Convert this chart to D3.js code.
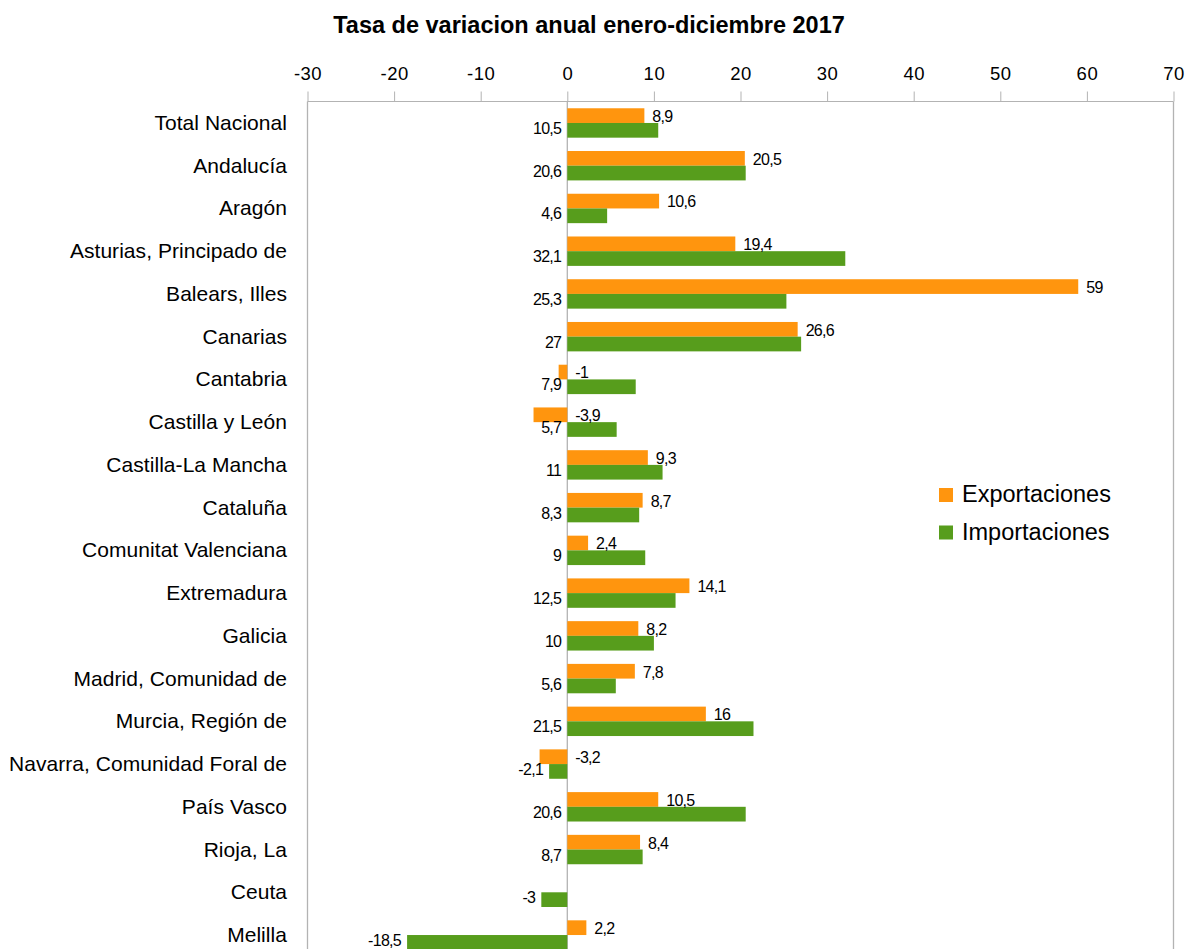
<!DOCTYPE html>
<html><head><meta charset="utf-8">
<script src="https://cdn.jsdelivr.net/npm/d3@7"></script>
<style>body{margin:0;background:#fff}svg{display:block;font-family:"Liberation Sans",Arial,sans-serif}</style>
</head><body><svg id="c" width="1188" height="949"></svg>
<script>
const categories = ["Total Nacional","Andalucía","Aragón","Asturias, Principado de","Balears, Illes","Canarias","Cantabria","Castilla y León","Castilla-La Mancha","Cataluña","Comunitat Valenciana","Extremadura","Galicia","Madrid, Comunidad de","Murcia, Región de","Navarra, Comunidad Foral de","País Vasco","Rioja, La","Ceuta","Melilla"];
const exportaciones = [8.9,20.5,10.6,19.4,59,26.6,-1,-3.9,9.3,8.7,2.4,14.1,8.2,7.8,16,-3.2,10.5,8.4,null,2.2];
const importaciones = [10.5,20.6,4.6,32.1,25.3,27,7.9,5.7,11,8.3,9,12.5,10,5.6,21.5,-2.1,20.6,8.7,-3,-18.5];
const xTicks = [-30,-20,-10,0,10,20,30,40,50,60,70];
const seriesNames = ["Exportaciones","Importaciones"];
const colors = ["#ff950e","#579d1c"];

const svg = d3.select("#c");
const x = d3.scaleLinear().domain([-30,70]).range([307.5,1173.5]);
const y = d3.scaleBand().domain(categories).range([101.6,956.4]);
const axisY = 101.5, barH = 14.7;
const fmt = v => String(v).replace(".", ",");

svg.append("text").attr("x",589).attr("y",33).attr("text-anchor","middle")
  .attr("font-size",23.5).attr("font-weight","bold").attr("fill","#000")
  .text("Tasa de variacion anual enero-diciembre 2017");

// axis
const ax = d3.axisTop(x).tickValues(xTicks).tickSize(10).tickPadding(12).tickFormat(d=>String(d));
const g = svg.append("g").attr("transform",`translate(0,${axisY})`).call(ax);
g.select(".domain").attr("stroke","#b3b3b3").attr("d",`M${x(-30)},0H${x(70)}`);
g.selectAll(".tick line").attr("stroke","#b3b3b3");
g.selectAll(".tick text").attr("font-size",18.5).attr("letter-spacing","0.5").attr("fill","#000")
  .attr("font-family","Liberation Sans, Arial, sans-serif");

// vertical lines
[-30,0,70].forEach(v=>{
  svg.append("line").attr("x1",x(v)).attr("x2",x(v)).attr("y1",axisY).attr("y2",949)
    .attr("stroke","#b3b3b3").attr("stroke-width",1.3);
});

// category labels
svg.append("g").selectAll("text").data(categories).join("text")
  .attr("x",287).attr("y",d=>y(d)+y.bandwidth()/2+7).attr("text-anchor","end")
  .attr("font-size",21).attr("letter-spacing","0.05").attr("fill","#000").text(d=>d);

const c = d => y(d)+y.bandwidth()/2;
// bars
const data = categories.map((d,i)=>({cat:d,e:exportaciones[i],im:importaciones[i]}));
svg.append("g").selectAll("rect").data(data.filter(d=>d.e!==null)).join("rect")
  .attr("x",d=>x(Math.min(0,d.e))).attr("width",d=>Math.abs(x(d.e)-x(0)))
  .attr("y",d=>c(d.cat)-barH).attr("height",barH).attr("fill",colors[0]);
svg.append("g").selectAll("rect").data(data).join("rect")
  .attr("x",d=>x(Math.min(0,d.im))).attr("width",d=>Math.abs(x(d.im)-x(0)))
  .attr("y",d=>c(d.cat)).attr("height",barH).attr("fill",colors[1]);

// value labels
svg.append("g").selectAll("text").data(data.filter(d=>d.e!==null)).join("text")
  .attr("x",d=>x(Math.max(0,d.e))+8).attr("y",d=>c(d.cat)-1)
  .attr("font-size",16).attr("fill","#000").attr("letter-spacing","-0.7").text(d=>fmt(d.e));
svg.append("g").selectAll("text").data(data).join("text")
  .attr("x",d=>x(Math.min(0,d.im))-6).attr("y",d=>c(d.cat)+11).attr("text-anchor","end")
  .attr("font-size",16).attr("fill","#000").attr("letter-spacing","-0.7").text(d=>fmt(d.im));

// legend
const lg = svg.append("g").selectAll("g").data(seriesNames).join("g")
  .attr("transform",(d,i)=>`translate(939,${488+i*37.5})`);
lg.append("rect").attr("width",14).attr("height",14).attr("fill",(d,i)=>colors[i]);
lg.append("text").attr("x",23).attr("y",14).attr("font-size",23.5).attr("fill","#000").text(d=>d);
</script></body></html>
